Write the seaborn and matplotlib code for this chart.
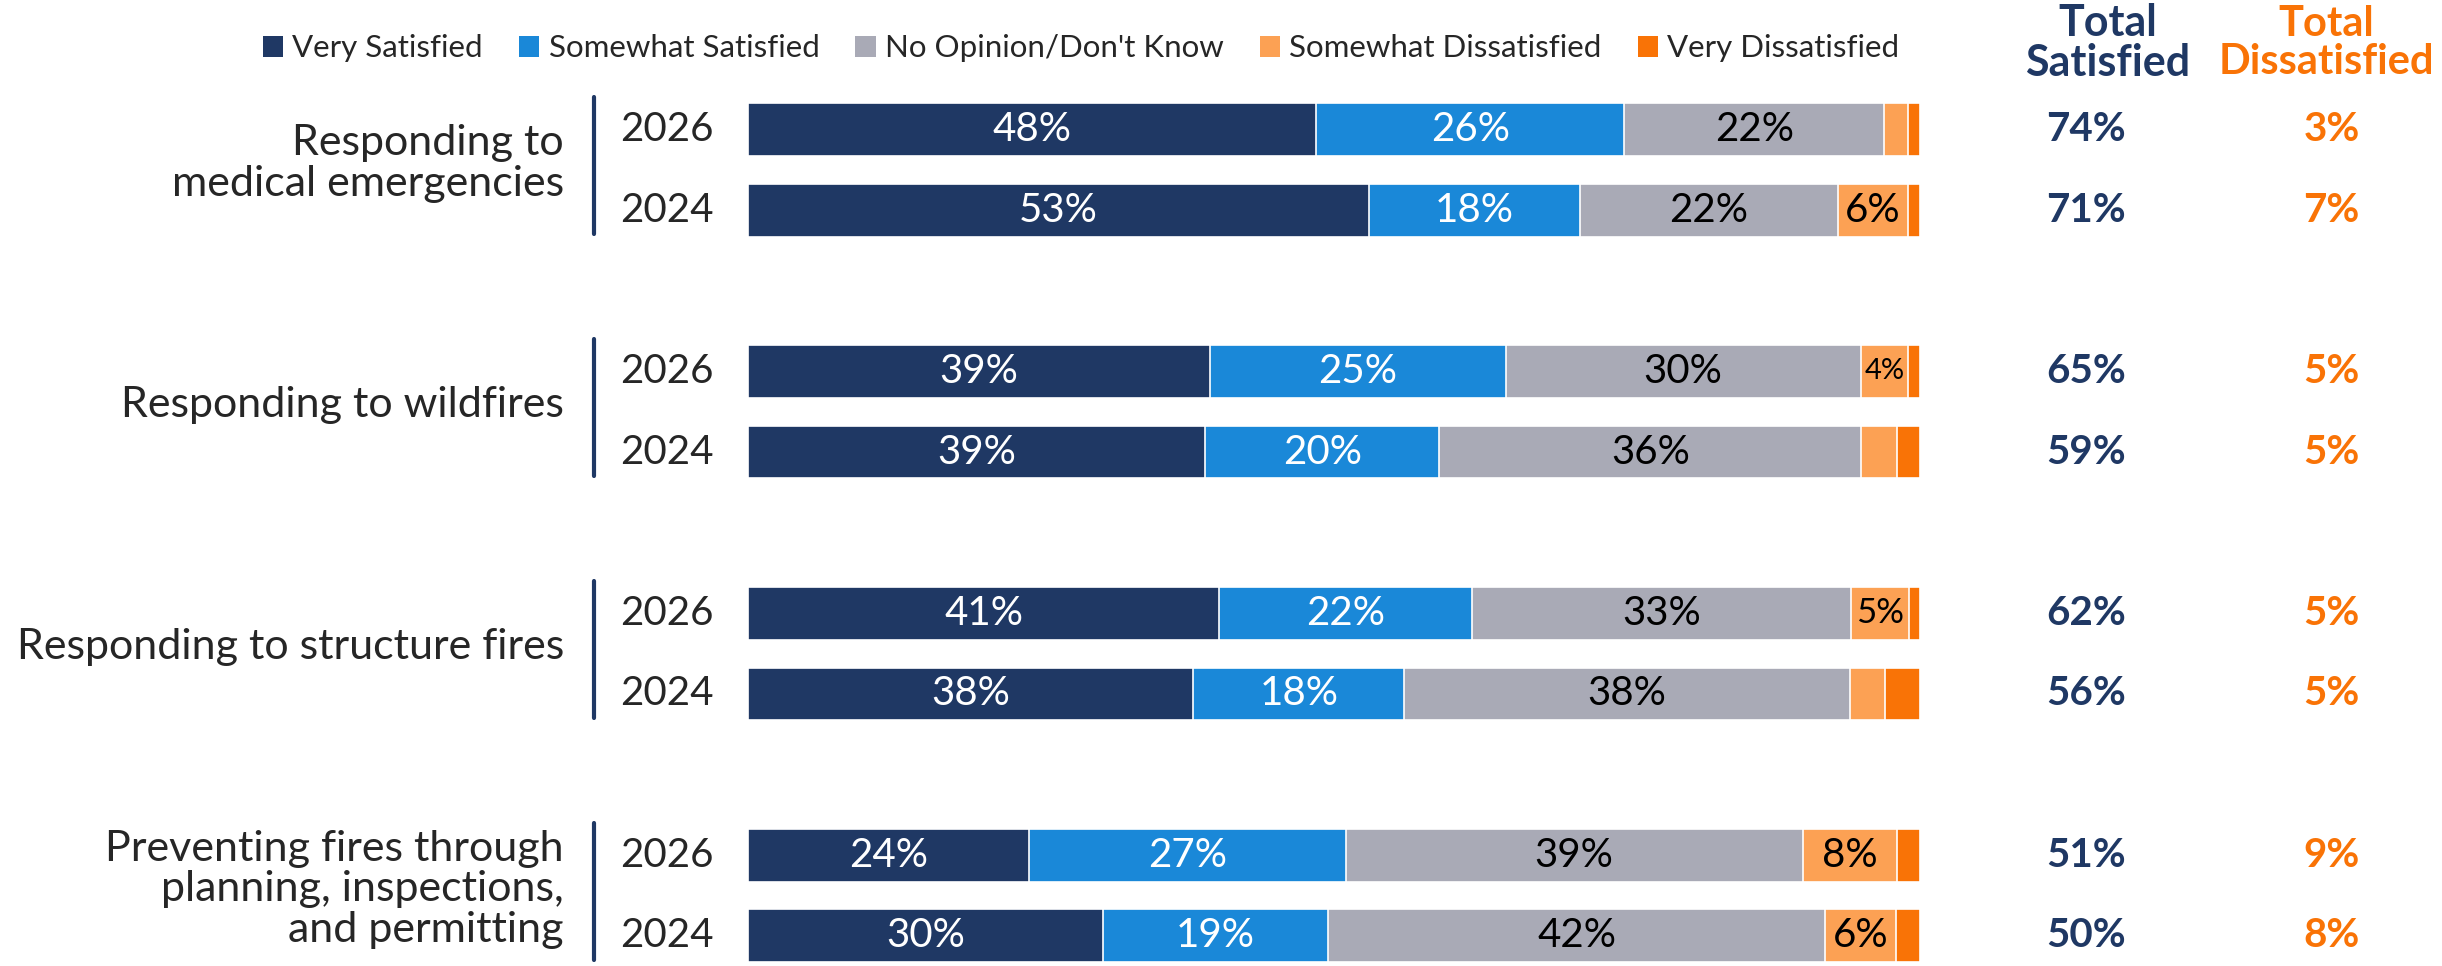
import numpy as np
import pandas as pd
import matplotlib.pyplot as plt
from matplotlib.patches import Patch
import seaborn as sns

sns.set_style("white")
plt.rcParams['font.family'] = ['Lato', 'DejaVu Sans']

items = ['Responding to\nmedical emergencies', 'Responding to wildfires',
         'Responding to structure fires',
         'Preventing fires through\nplanning, inspections,\nand permitting']
years = ['2026', '2024']
segments = ['Very Satisfied', 'Somewhat Satisfied', "No Opinion/Don't Know",
            'Somewhat Dissatisfied', 'Very Dissatisfied']

# one entry per bar: item x year (2026 first)
very_sat = [48, 53, 39, 39, 41, 38, 24, 30]
some_sat = [26, 18, 25, 20, 22, 18, 27, 19]
no_opinion = [22, 22, 30, 36, 33, 38, 39, 42]
some_dis = [2, 6, 4, 3, 5, 3, 8, 6]
very_dis = [1, 1, 1, 2, 1, 3, 2, 2]
total_sat = [74, 71, 65, 59, 62, 56, 51, 50]
total_dis = [3, 7, 5, 5, 5, 5, 9, 8]

colors = ['#1F3864', '#1A88D8', '#A9AAB6', '#FCA154', '#F97306']
label_colors = ['white', 'white', 'black', 'black', 'black']
navy = '#1F3864'
orange = '#F97306'

df = pd.DataFrame(dict(zip(segments, [very_sat, some_sat, no_opinion, some_dis, very_dis])))
df['pos'] = [3 * g + i for g in range(len(items)) for i in range(len(years))]
shares = df[segments].div(df[segments].sum(axis=1), axis=0) * 100
cum = shares.cumsum(axis=1)

fig = plt.figure(figsize=(24.42, 9.66), dpi=100)
ax = fig.add_axes([748 / 2442, 0.002, 1172 / 2442, 0.8973])

# stacked bars: draw cumulative totals from the right-most segment down
for k in reversed(range(len(segments))):
    sns.barplot(x=cum[segments[k]], y=df['pos'], orient='y', native_scale=True,
                color=colors[k], saturation=1, width=0.654, edgecolor='white',
                linewidth=1.2, errorbar=None, legend=False, ax=ax)

ax.set_xlim(0, 100)
ax.set_ylim(10.35, -0.4)
ax.axis('off')

# segment labels
for r in range(len(df)):
    for k in range(4):
        v = df[segments[k]].iloc[r]
        if v < 4:
            continue
        xc = cum[segments[k]].iloc[r] - shares[segments[k]].iloc[r] / 2
        fs = 29 if v > 5 else (25 if v == 5 else 21)
        ax.text(xc, df['pos'].iloc[r], f'{v}%', ha='center', va='center',
                color=label_colors[k], fontsize=fs)

    y = df['pos'].iloc[r]
    ax.text(-2.9, y, years[r % 2], ha='right', va='center', fontsize=29, clip_on=False)
    ax.text(114.2, y, f'{total_sat[r]}%', ha='center', va='center', fontsize=29,
            fontweight='bold', color=navy, clip_on=False)
    ax.text(135.1, y, f'{total_dis[r]}%', ha='center', va='center', fontsize=29,
            fontweight='bold', color=orange, clip_on=False)

# item labels and separators
for g, name in enumerate(items):
    ax.text(-15.7, 3 * g + 0.42, name, ha='right', va='center', fontsize=31,
            linespacing=1.08, clip_on=False)
    ax.plot([-13.1, -13.1], [3 * g - 0.4, 3 * g + 1.3], color=navy, lw=3,
            clip_on=False)

fig.text(2108 / 2442, 0.955, 'Total\nSatisfied', ha='center', va='center',
         fontsize=31, fontweight='bold', color=navy, linespacing=1.0)
fig.text(2326 / 2442, 0.955, 'Total\nDissatisfied', ha='center', va='center',
         fontsize=30, fontweight='bold', color=orange, linespacing=1.0)

handles = [Patch(facecolor=c, edgecolor='none') for c in colors]
fig.legend(handles, segments, ncol=5, loc='center', bbox_to_anchor=(0.4427, 0.95),
           frameon=False, fontsize=22.5, handlelength=0.65, handleheight=0.65,
           handletextpad=0.3, columnspacing=1.15, borderpad=0)

fig.savefig('out.png', dpi=100)
